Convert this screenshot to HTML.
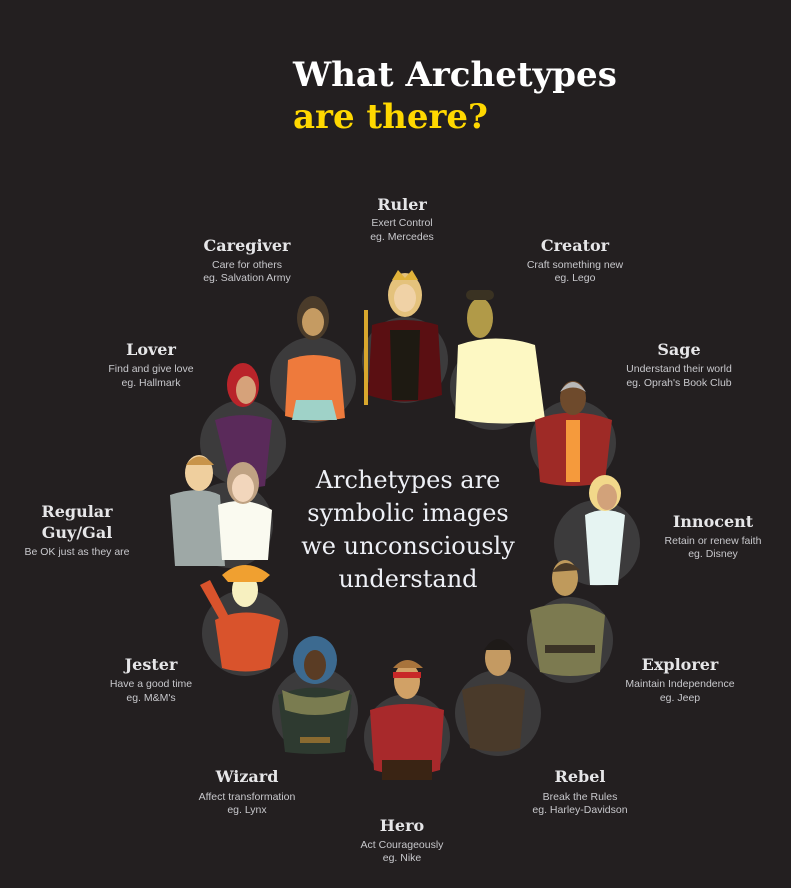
<!DOCTYPE html>
<html><head><meta charset="utf-8"><style>
html,body{margin:0;padding:0;background:#231f20;}
svg{display:block}
.t{font-family:"DejaVu Serif","Liberation Serif",serif;font-weight:bold;}
.n{font-family:"DejaVu Serif","Liberation Serif",serif;font-weight:bold;font-size:16px;fill:#e6e6e8;text-anchor:middle}
.d{font-family:"Liberation Sans",sans-serif;font-size:10.5px;fill:#c8c8cc;text-anchor:middle}
.c{font-family:"DejaVu Serif","Liberation Serif",serif;font-size:24px;fill:#eef0f6;text-anchor:middle;font-weight:300}
</style></head><body>
<svg width="791" height="888" viewBox="0 0 791 888" xmlns="http://www.w3.org/2000/svg">
<rect width="791" height="888" fill="#231f20"/>
<text x="293" y="86" class="t" font-size="34" fill="#ffffff">What Archetypes</text>
<text x="293" y="128" class="t" font-size="34" fill="#ffd800">are there?</text>

<g fill="#3c3b3c">
<circle cx="313" cy="380" r="43"/><circle cx="405" cy="360" r="43"/><circle cx="493" cy="387" r="43"/>
<circle cx="573" cy="443" r="43"/><circle cx="243" cy="443" r="43"/><circle cx="597" cy="543" r="43"/>
<circle cx="230" cy="525" r="43"/><circle cx="245" cy="633" r="43"/><circle cx="570" cy="640" r="43"/>
<circle cx="315" cy="710" r="43"/><circle cx="498" cy="713" r="43"/><circle cx="407" cy="737" r="43"/>
</g>

<!-- Caregiver -->
<path d="M288 360 Q313 350 340 360 L345 418 Q313 424 285 416Z" fill="#ee7a3c"/>
<path d="M296 400 L332 400 L337 420 L292 420Z" fill="#9fd2c8"/>
<ellipse cx="313" cy="318" rx="16" ry="22" fill="#4a3b2a"/>
<ellipse cx="313" cy="322" rx="11" ry="14" fill="#c59b62"/>
<!-- Ruler -->
<path d="M372 325 Q405 315 438 325 L442 395 Q405 408 368 395Z" fill="#5a0f12"/>
<path d="M390 330 L420 330 L418 400 L392 400Z" fill="#1e1a12"/>
<rect x="364" y="310" width="4" height="95" fill="#d9a72d"/>
<ellipse cx="405" cy="295" rx="17" ry="22" fill="#e4c27c"/>
<ellipse cx="405" cy="298" rx="11" ry="14" fill="#f0d2a6"/>
<path d="M392 280 L398 270 L405 278 L412 270 L418 280Z" fill="#e0b23a"/>
<!-- Creator -->
<path d="M458 345 Q495 332 535 345 L545 420 Q495 428 455 418Z" fill="#fdf8c3"/>
<ellipse cx="480" cy="318" rx="13" ry="20" fill="#b19a48"/>
<rect x="466" y="290" width="28" height="10" rx="5" fill="#3a3222"/>
<!-- Sage -->
<path d="M535 420 Q573 405 612 420 L605 482 Q573 490 540 482Z" fill="#9e2a26"/>
<rect x="566" y="420" width="14" height="62" fill="#f59a3c"/>
<ellipse cx="573" cy="398" rx="13" ry="17" fill="#6e4a2c"/>
<path d="M560 392 Q573 372 586 392 Q573 383 560 392Z" fill="#b8b8b8"/>
<!-- Lover -->
<path d="M215 420 Q243 410 272 420 L265 486 Q243 490 230 482Z" fill="#5a2a5a"/>
<ellipse cx="243" cy="385" rx="16" ry="22" fill="#b9242a"/>
<ellipse cx="246" cy="390" rx="10" ry="14" fill="#d6a27a"/>
<!-- Regular Guy/Gal -->
<path d="M170 495 Q200 485 220 495 L225 566 L175 566Z" fill="#9ea8a6"/>
<ellipse cx="199" cy="473" rx="14" ry="18" fill="#efcf9e"/>
<path d="M186 465 Q199 448 214 465Z" fill="#c8944a"/>
<path d="M218 505 Q245 495 272 510 L268 560 L222 560Z" fill="#fafaf0"/>
<ellipse cx="243" cy="483" rx="16" ry="21" fill="#bfa283"/>
<ellipse cx="243" cy="488" rx="11" ry="14" fill="#f2d6bc"/>
<!-- Innocent -->
<path d="M585 515 Q605 505 625 515 L618 585 L590 585Z" fill="#e6f4f2"/>
<ellipse cx="605" cy="493" rx="16" ry="18" fill="#f2d88a"/>
<ellipse cx="607" cy="497" rx="10" ry="13" fill="#d2a27a"/>
<!-- Jester -->
<path d="M215 620 Q245 605 280 620 L270 668 Q245 675 222 668Z" fill="#d9532c"/>
<path d="M200 585 L220 620 L228 615 L210 580Z" fill="#d9532c"/>
<ellipse cx="245" cy="590" rx="13" ry="17" fill="#f7f0c0"/>
<path d="M222 575 Q245 555 270 575 L262 582 L228 582Z" fill="#f0a030"/>
<!-- Explorer -->
<path d="M530 610 Q570 595 605 615 L600 672 Q570 680 540 672Z" fill="#7c7a50"/>
<rect x="545" y="645" width="50" height="8" fill="#3b3326"/>
<ellipse cx="565" cy="578" rx="13" ry="18" fill="#bf9a5c"/>
<path d="M552 572 Q565 555 580 570Z" fill="#4a3a28"/>
<!-- Wizard -->
<path d="M278 695 Q315 680 352 695 L345 752 Q315 756 285 752Z" fill="#2e3a30"/>
<path d="M282 690 Q315 705 350 690 L345 710 Q315 720 285 710Z" fill="#7a7c50"/>
<rect x="300" y="737" width="30" height="6" fill="#8a6a30"/>
<ellipse cx="315" cy="660" rx="22" ry="24" fill="#3c6a90"/>
<ellipse cx="315" cy="665" rx="11" ry="15" fill="#5a3c24"/>
<!-- Rebel -->
<path d="M462 690 Q498 678 525 690 L520 748 Q498 755 470 748Z" fill="#4a3a2a"/>
<ellipse cx="498" cy="658" rx="13" ry="18" fill="#c49a62"/>
<path d="M484 650 Q498 628 514 650Z" fill="#1e1a18"/>
<!-- Hero -->
<path d="M370 710 Q407 698 444 710 L440 770 Q407 780 374 770Z" fill="#a8292b"/>
<rect x="382" y="760" width="50" height="20" fill="#3a2414"/>
<ellipse cx="407" cy="681" rx="13" ry="18" fill="#d1a166"/>
<rect x="393" y="672" width="28" height="6" fill="#c82828"/>
<path d="M393 668 Q407 652 423 668Z" fill="#a8743c"/>

<text class="c" x="408" y="488">Archetypes are</text>
<text class="c" x="408" y="521">symbolic images</text>
<text class="c" x="408" y="554">we unconsciously</text>
<text class="c" x="408" y="587">understand</text>

<text class="n" x="402" y="210">Ruler</text><text class="d" x="402" y="226">Exert Control</text><text class="d" x="402" y="240">eg. Mercedes</text>
<text class="n" x="247" y="251">Caregiver</text><text class="d" x="247" y="268">Care for others</text><text class="d" x="247" y="281">eg. Salvation Army</text>
<text class="n" x="575" y="251">Creator</text><text class="d" x="575" y="268">Craft something new</text><text class="d" x="575" y="281">eg. Lego</text>
<text class="n" x="151" y="355">Lover</text><text class="d" x="151" y="372">Find and give love</text><text class="d" x="151" y="386">eg. Hallmark</text>
<text class="n" x="679" y="355">Sage</text><text class="d" x="679" y="372">Understand their world</text><text class="d" x="679" y="386">eg. Oprah's Book Club</text>
<text class="n" x="77" y="517">Regular</text><text class="n" x="77" y="538">Guy/Gal</text><text class="d" x="77" y="555">Be OK just as they are</text>
<text class="n" x="713" y="527">Innocent</text><text class="d" x="713" y="544">Retain or renew faith</text><text class="d" x="713" y="557">eg. Disney</text>
<text class="n" x="151" y="670">Jester</text><text class="d" x="151" y="687">Have a good time</text><text class="d" x="151" y="701">eg. M&amp;M's</text>
<text class="n" x="680" y="670">Explorer</text><text class="d" x="680" y="687">Maintain Independence</text><text class="d" x="680" y="701">eg. Jeep</text>
<text class="n" x="247" y="782">Wizard</text><text class="d" x="247" y="800">Affect transformation</text><text class="d" x="247" y="813">eg. Lynx</text>
<text class="n" x="580" y="782">Rebel</text><text class="d" x="580" y="800">Break the Rules</text><text class="d" x="580" y="813">eg. Harley-Davidson</text>
<text class="n" x="402" y="831">Hero</text><text class="d" x="402" y="848">Act Courageously</text><text class="d" x="402" y="861">eg. Nike</text>
</svg>
</body></html>
